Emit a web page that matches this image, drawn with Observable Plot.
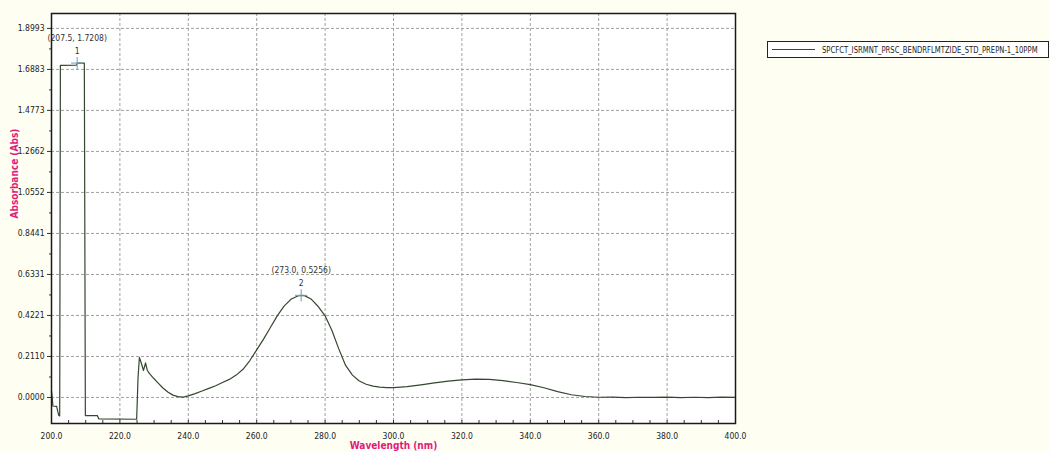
<!DOCTYPE html>
<html><head><meta charset="utf-8">
<script src="https://cdn.jsdelivr.net/npm/d3@7"></script>
<script src="https://cdn.jsdelivr.net/npm/@observablehq/plot@0.6"></script>
<style>
body{margin:0;background:#fefef3;}
#chart svg{display:block;}
</style>
</head><body><div id="chart"></div>
<script>
// ---- data ----
const wavelength = [200.0,200.2,200.4,201.5,202.1,202.4,202.6,207.3,207.5,209.6,209.9,213.4,213.8,224.9,225.3,225.7,226.2,226.9,227.5,228.0,228.6,229.8,231.0,232.5,234.0,235.5,237.0,238.5,240.0,242.0,244.0,246.0,248.0,250.0,252.0,254.0,256.0,258.0,260.0,262.0,264.0,266.0,268.0,270.0,272.0,273.0,274.0,276.0,278.0,280.0,282.0,284.0,286.0,288.0,290.0,292.0,294.0,296.0,298.0,300.0,304.0,308.0,312.0,316.0,320.0,324.0,328.0,332.0,336.0,340.0,344.0,348.0,352.0,356.0,360.0,364.0,368.0,372.0,376.0,380.0,384.0,388.0,392.0,396.0,400.0];
const absorbance = [0.034,0.002,-0.044,-0.046,-0.092,-0.095,1.709,1.710,1.7208,1.7208,-0.093,-0.093,-0.110,-0.112,0.100,0.206,0.180,0.139,0.178,0.140,0.124,0.100,0.078,0.050,0.028,0.012,0.004,0.002,0.008,0.020,0.033,0.047,0.060,0.077,0.093,0.115,0.145,0.190,0.245,0.300,0.360,0.420,0.470,0.505,0.522,0.5256,0.524,0.505,0.468,0.420,0.345,0.250,0.165,0.115,0.085,0.068,0.058,0.053,0.051,0.051,0.056,0.065,0.075,0.084,0.091,0.094,0.093,0.087,0.077,0.066,0.050,0.030,0.014,0.005,0.001,0.002,-0.001,0.001,0.000,0.002,-0.001,0.001,-0.001,0.002,0.000];

const xTicks = [200,220,240,260,280,300,320,340,360,380,400];
const xMinorTicks = d3.range(205, 400, 5).filter(v => v % 20 !== 0);
const yTickLabels = ["0.0000","0.2110","0.4221","0.6331","0.8441","1.0552","1.2662","1.4773","1.6883","1.8993"];
const yTicks = yTickLabels.map(Number);
const yMinorTicks = yTicks.slice(0, -1).map(v => v + 0.10552);

const peakX = [207.5, 273.0];
const peakY = [1.7208, 0.5256];
const peakNum = ["1", "2"];
const peakLabel = ["(207.5, 1.7208)", "(273.0, 0.5256)"];

const seriesName = "SPCFCT_ISRMNT_PRSC_BENDRFLMTZIDE_STD_PREPN-1_10PPM";
const xLabel = "Wavelength (nm)";
const yLabel = "Absorbance (Abs)";

// ---- build ----
const data = wavelength.map((w, i) => ({w, a: absorbance[i]}));
const peaks = peakX.map((x, i) => ({x, y: peakY[i], n: peakNum[i], l: peakLabel[i]}));

const W = 1050, H = 452;
const mL = 51, mR = 315, mT = 13, mB = 29;
const font = "'Liberation Sans Narrow','DejaVu Sans Condensed','Liberation Sans',Arial,sans-serif";
const lineColor = "#34472f";
const pink = "#e3197b";

function legendMark(index, scales, values, dims) {
  const g = d3.create("svg:g").attr("class", "legend");
  const x0 = dims.width - dims.marginRight + 32;
  g.append("rect").attr("x", x0 + 0.5).attr("y", 41.5).attr("width", 281).attr("height", 16)
    .attr("fill", "white").attr("stroke", "#222").attr("stroke-width", 1);
  g.append("line").attr("x1", x0 + 5).attr("x2", x0 + 48).attr("y1", 49.5).attr("y2", 49.5)
    .attr("stroke", lineColor).attr("stroke-width", 1.2);
  g.append("text").attr("class", "legend-text")
    .attr("transform", `translate(${x0 + 55},53)`)
    .attr("font-size", 9)
    .attr("text-anchor", "start")
    .attr("font-family", font).attr("fill", "#222")
    .text(seriesName);
  return g.node();
}

const chart = Plot.plot({
  width: W, height: H,
  marginLeft: mL, marginRight: mR, marginTop: mT, marginBottom: mB,
  style: {background: "transparent", fontFamily: font, fontSize: "8.5px", color: "#222"},
  x: {domain: [200, 400], axis: null},
  y: {domain: [-0.134, 1.976], axis: null},
  marks: [
    Plot.frame({fill: "white"}),
    Plot.gridX(xTicks.slice(1, -1), {stroke: "#a0a0a0", strokeOpacity: 1, strokeDasharray: "3,2"}),
    Plot.gridY(yTicks, {stroke: "#a0a0a0", strokeOpacity: 1, strokeDasharray: "3,2"}),
    Plot.tickX(xTicks.concat(xMinorTicks), {x: d => d, stroke: "#333", insetTop: H - mT - mB - 3}),
    Plot.axisX(xTicks, {tickSize: 0, tickPadding: 9, tickFormat: d => d.toFixed(1), label: null, fill: "#222"}),
    Plot.axisY(yTicks, {tickSize: 4, tickPadding: 3, tickFormat: d => d.toFixed(4), label: null, stroke: "#333", fill: "#222"}),
    Plot.axisY(yMinorTicks, {tickSize: 2, text: null, label: null, stroke: "#333"}),
    Plot.line(data, {x: "w", y: "a", stroke: lineColor, strokeWidth: 1.2}),
    Plot.dot(peaks, {x: "x", y: "y", symbol: "plus", r: 4, stroke: "#6f9cc4", strokeWidth: 1}),
    Plot.text(peaks, {x: "x", y: "y", text: "l", dy: -25, fill: "#333", fontSize: 8.5}),
    Plot.text(peaks, {x: "x", y: "y", text: "n", dy: -12, fill: "#333", fontSize: 8.5}),
    Plot.frame({stroke: "#1a1a1a", strokeWidth: 1.5}),
    Plot.text([xLabel], {frameAnchor: "bottom", dy: 25, fill: pink, fontWeight: "bold", fontSize: 10}),
    Plot.text([yLabel], {frameAnchor: "left", dx: -37, rotate: -90, fill: pink, fontWeight: "bold", fontSize: 10}),
    legendMark
  ]
});
document.getElementById("chart").appendChild(chart);
// squeeze the legend label horizontally to the reference's width
const lt = chart.querySelector(".legend-text");
const natural = lt.getComputedTextLength();
const s = Math.min(1, 216 / natural);
lt.setAttribute("transform", lt.getAttribute("transform") + ` scale(${s},1)`);
</script></body></html>
